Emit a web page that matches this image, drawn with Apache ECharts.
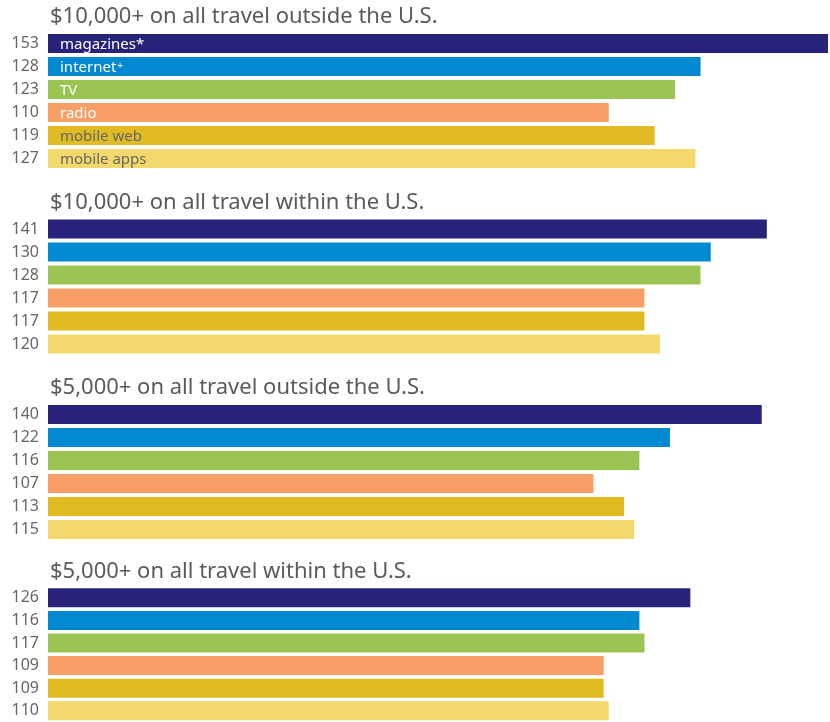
<!DOCTYPE html>
<html><head><meta charset="utf-8">
<script src="https://cdn.jsdelivr.net/npm/echarts@6/dist/echarts.min.js"></script>
<style>html,body{margin:0;padding:0;background:#fff}#c{width:830px;height:722px}</style>
</head><body><div id="c"></div>
<script>
const groupTitles = [
  "$10,000+ on all travel outside the U.S.",
  "$10,000+ on all travel within the U.S.",
  "$5,000+ on all travel outside the U.S.",
  "$5,000+ on all travel within the U.S."
];
const categories = ["magazines*", "internet+", "TV", "radio", "mobile web", "mobile apps"];
const outside10k = [153, 128, 123, 110, 119, 127];
const within10k = [141, 130, 128, 117, 117, 120];
const outside5k = [140, 122, 116, 107, 113, 115];
const within5k = [126, 116, 117, 109, 109, 110];
const groups = [outside10k, within10k, outside5k, within5k];
const colors = ["#28237a", "#0089d1", "#9bc453", "#f89f67", "#e1bb23", "#f3d96c"];
const labelColors = ["#ffffff", "#ffffff", "#ffffff", "#ffffff", "#666666", "#666666"];

const FONT = "'Noto Sans', sans-serif";
const barTops = [34, 219.5, 405, 588.5];
const titleTops = [1, 187, 372, 556];
const pitch = 23, barH = 19;

const chart = echarts.init(document.getElementById('c'));
const grids = [], xAxes = [], yAxes = [], series = [], titles = [];
groups.forEach((vals, g) => {
  grids.push({left: 48, right: 2, top: barTops[g] - (pitch - barH) / 2, height: pitch * 6});
  xAxes.push({gridIndex: g, type: 'value', min: 0, max: 153, show: false});
  yAxes.push({
    gridIndex: g, type: 'category', data: categories, inverse: true,
    axisLine: {show: false}, axisTick: {show: false}, splitLine: {show: false},
    axisLabel: {margin: 9, fontSize: 16, color: '#666', fontFamily: FONT, padding: [4, 0, 0, 0],
      formatter: (v, i) => String(vals[i])}
  });
  titles.push({text: groupTitles[g], left: 45, top: titleTops[g],
    textStyle: {fontSize: 22, fontWeight: 'normal', color: '#5a5a5a', fontFamily: FONT}});
  series.push({
    type: 'bar', xAxisIndex: g, yAxisIndex: g, barWidth: barH,
    data: vals.map((v, i) => ({
      value: v,
      itemStyle: {color: colors[i]},
      label: {show: g === 0, color: labelColors[i]}
    })),
    label: {
      position: 'insideLeft', distance: 12, fontSize: 15, fontFamily: FONT, padding: [3, 0, 0, 0],
      formatter: p => p.name === 'internet+' ? 'internet{sup|+}' : p.name,
      rich: {sup: {fontSize: 10, color: '#fff', padding: [0, 0, 3, 1], fontFamily: FONT}}
    },
    animation: false
  });
});
chart.setOption({animation: false, title: titles, grid: grids, xAxis: xAxes, yAxis: yAxes, series: series});
</script></body></html>
